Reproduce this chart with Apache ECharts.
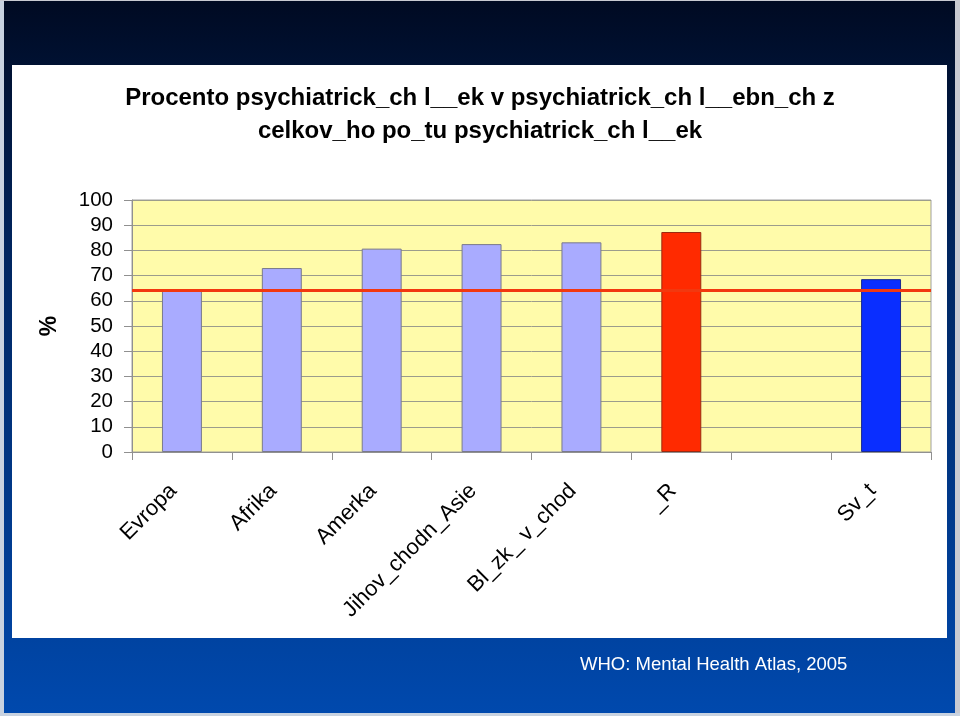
<!DOCTYPE html>
<html>
<head>
<meta charset="utf-8">
<script src="https://cdn.jsdelivr.net/npm/echarts@6/dist/echarts.min.js"></script>
<style>
html,body{margin:0;padding:0;background:#fff;}
#chart{width:960px;height:716px;}
</style>
</head>
<body>
<div id="chart"></div>
<script>
var categories = ['Evropa', 'Afrika', 'Amerka', 'Jihov_chodn_Asie', 'Bl_zk_ v_chod', '_R', '', 'Sv_t'];
var values = [64, 73, 80.7, 82.5, 83.2, 87.3, null, 68.6];
var referenceValue = 64.2;
var yTicks = {min: 0, max: 100, interval: 10};
var titleLines = ['Procento psychiatrick_ch l__ek v psychiatrick_ch l__ebn_ch z', 'celkov_ho po_tu psychiatrick_ch l__ek'];
var sourceText = 'WHO: Mental Health Atlas, 2005';

var FONT = 'Arial, "Liberation Sans", sans-serif';
var barStyles = [
  {color: '#A9ABFF', borderColor: '#7A7A8A'},
  {color: '#A9ABFF', borderColor: '#7A7A8A'},
  {color: '#A9ABFF', borderColor: '#7A7A8A'},
  {color: '#A9ABFF', borderColor: '#7A7A8A'},
  {color: '#A9ABFF', borderColor: '#7A7A8A'},
  {color: '#FF2A00', borderColor: '#9A2A10'},
  {color: '#A9ABFF', borderColor: '#7A7A8A'},
  {color: '#0A2EFF', borderColor: '#1A2A90'}
];

var barData = values.map(function (v, i) {
  return {value: v, itemStyle: {color: barStyles[i].color, borderColor: barStyles[i].borderColor, borderWidth: 1}};
});

var chart = echarts.init(document.getElementById('chart'), null, {renderer: 'canvas'});
chart.setOption({
  animation: false,
  backgroundColor: {
    type: 'linear', x: 0, y: 0, x2: 0, y2: 1,
    colorStops: [{offset: 0, color: '#000A22'}, {offset: 0.35, color: '#00255F'}, {offset: 1, color: '#0049AE'}]
  },
  graphic: [
    {type: 'rect', z: -10, silent: true, shape: {x: 0, y: 0, width: 4, height: 716}, style: {fill: '#C8D2E0'}},
    {type: 'rect', z: -10, silent: true, shape: {x: 955, y: 0, width: 5, height: 716}, style: {fill: '#C8CAD2'}},
    {type: 'rect', z: -10, silent: true, shape: {x: 0, y: 0, width: 960, height: 1}, style: {fill: '#C8CAD2'}},
    {type: 'rect', z: -10, silent: true, shape: {x: 0, y: 713, width: 960, height: 3}, style: {fill: '#C8D2E0'}},
    {type: 'rect', z: -10, silent: true, shape: {x: 12, y: 65, width: 935, height: 573}, style: {fill: '#FFFFFF'}},
    {type: 'text', silent: true, left: 580, top: 655, style: {text: sourceText, fill: '#FFFFFF', font: '18.5px ' + FONT}}
  ],
  title: {
    text: titleLines.join('\n'),
    left: 'center',
    top: 82,
    padding: 0,
    textStyle: {fontFamily: FONT, fontSize: 24, fontWeight: 'bold', color: '#000', lineHeight: 33}
  },
  grid: {
    left: 132, right: 29, top: 200, bottom: 264,
    show: true, backgroundColor: '#FFFBAA', borderColor: '#A0A0A0', borderWidth: 1
  },
  xAxis: {
    type: 'category',
    data: categories,
    boundaryGap: true,
    axisLine: {lineStyle: {color: '#909090', width: 1}},
    axisTick: {show: true, interval: 0, length: 8, lineStyle: {color: '#909090'}},
    axisLabel: {interval: 0, rotate: 45, margin: 27, padding: [0, 12, 0, 0], color: '#000', fontFamily: FONT, fontSize: 22}
  },
  yAxis: {
    type: 'value',
    min: yTicks.min, max: yTicks.max, interval: yTicks.interval,
    name: '%', nameLocation: 'middle', nameRotate: 90, nameGap: 71,
    nameTextStyle: {fontFamily: FONT, fontSize: 23, fontWeight: 'bold', color: '#000'},
    axisLine: {show: true, lineStyle: {color: '#909090'}},
    axisTick: {show: true, length: 8, lineStyle: {color: '#909090'}},
    axisLabel: {margin: 19, color: '#000', fontFamily: FONT, fontSize: 20.5},
    splitLine: {show: true, lineStyle: {color: '#9C9C8C', width: 1}}
  },
  series: [{
    type: 'bar',
    data: barData,
    barWidth: '40%',
    markLine: {
      silent: true,
      symbol: ['none', 'none'],
      label: {show: false},
      lineStyle: {color: '#F2380F', width: 3, type: 'solid'},
      data: [{yAxis: referenceValue}]
    }
  }]
});
</script>
</body>
</html>
